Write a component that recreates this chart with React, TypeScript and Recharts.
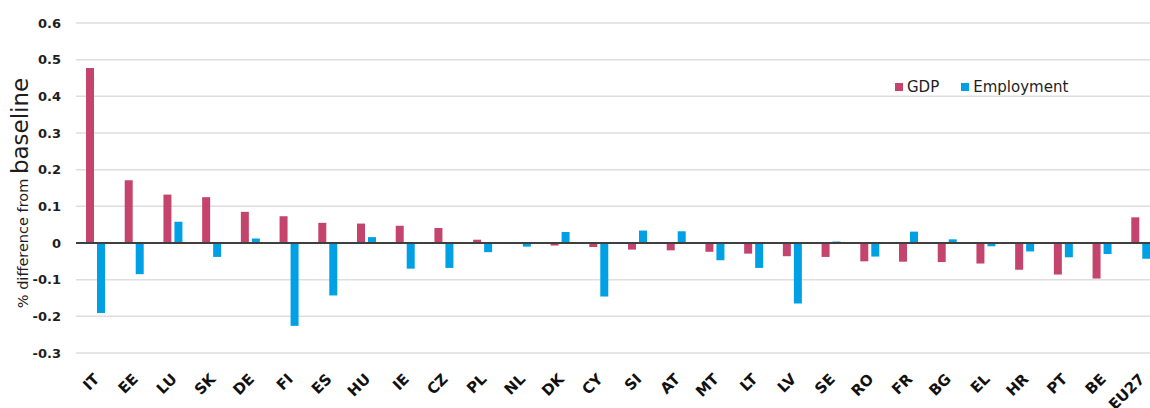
import React from 'react'
import {
  BarChart,
  Bar,
  XAxis,
  YAxis,
  CartesianGrid,
  Legend,
  ReferenceLine,
} from 'recharts'

const countries = [
  'IT', 'EE', 'LU', 'SK', 'DE', 'FI', 'ES', 'HU', 'IE', 'CZ', 'PL', 'NL', 'DK', 'CY',
  'SI', 'AT', 'MT', 'LT', 'LV', 'SE', 'RO', 'FR', 'BG', 'EL', 'HR', 'PT', 'BE', 'EU27',
]

const gdp = [
  0.477, 0.171, 0.132, 0.125, 0.085, 0.073, 0.055, 0.053, 0.047, 0.041, 0.009, -0.001, -0.007, -0.011,
  -0.018, -0.02, -0.024, -0.029, -0.036, -0.038, -0.05, -0.051, -0.052, -0.056, -0.073, -0.086, -0.097, 0.07,
]

const employment = [
  -0.191, -0.085, 0.058, -0.038, 0.012, -0.226, -0.143, 0.016, -0.07, -0.068, -0.025, -0.01, 0.03, -0.146,
  0.034, 0.032, -0.047, -0.068, -0.165, 0.004, -0.037, 0.031, 0.01, -0.009, -0.023, -0.039, -0.03, -0.043,
]

const yTicks = [-0.3, -0.2, -0.1, 0, 0.1, 0.2, 0.3, 0.4, 0.5, 0.6]

const GDP_COLOR = '#C5446E'
const EMP_COLOR = '#00A1E4'
const FONT = '"DejaVu Sans", sans-serif'

const data = countries.map((name, i) => ({
  name,
  gdp: gdp[i],
  employment: employment[i],
}))

interface TickProps {
  x: number
  y: number
  payload?: { value: string | number }
}

const YTick = ({ y, payload }: TickProps) => (
  <text
    x={61}
    y={y}
    dy={4.5}
    textAnchor="end"
    fontFamily={FONT}
    fontSize={13}
    fontWeight={600}
    fill="#1e1e1e"
  >
    {payload?.value === 0 ? '0' : String(payload?.value)}
  </text>
)

const XTick = ({ x, y, payload }: TickProps) => (
  <g transform={`translate(${x + 5},${y + 19})`}>
    <text
      x={0}
      y={0}
      textAnchor="end"
      transform="rotate(-45)"
      fontFamily={FONT}
      fontSize={15}
      fontWeight={700}
      fill="#111"
    >
      {payload?.value}
    </text>
  </g>
)

const YLabel = () => (
  <text
    x={28}
    y={193}
    transform="rotate(-90, 28, 193)"
    textAnchor="middle"
    fontFamily={FONT}
    fill="#1e1e1e"
  >
    <tspan fontSize={14.5}>% difference from </tspan>
    <tspan fontSize={23}>baseline</tspan>
  </text>
)

const LegendContent = () => (
  <div
    style={{
      display: 'flex',
      alignItems: 'center',
      fontFamily: FONT,
      fontSize: 15,
      color: '#1e1e1e',
    }}
  >
    <span style={{ width: 8, height: 8, background: GDP_COLOR, marginRight: 4 }} />
    <span style={{ marginRight: 22 }}>GDP</span>
    <span style={{ width: 8, height: 8, background: EMP_COLOR, marginRight: 4 }} />
    <span>Employment</span>
  </div>
)

export default function App() {
  return (
    <div
      style={{
        position: 'fixed',
        left: 0,
        top: 0,
        width: 1150,
        height: 408,
        overflow: 'hidden',
        background: '#fff',
      }}
    >
      <BarChart
        width={1160}
        height={408}
        data={data}
        margin={{ top: 23, right: 0, bottom: 0, left: 0 }}
        barSize={8}
        barGap={3}
      >
        <CartesianGrid vertical={false} stroke="#dedede" strokeWidth={1.5} />
        <XAxis
          dataKey="name"
          interval={0}
          height={55}
          tickLine={false}
          axisLine={false}
          tick={XTick}
        />
        <YAxis
          width={76}
          domain={[-0.3, 0.6]}
          ticks={yTicks}
          tickLine={false}
          axisLine={false}
          tick={YTick}
          label={YLabel}
        />
        <Legend
          layout="vertical"
          align="center"
          verticalAlign="middle"
          content={LegendContent}
          wrapperStyle={{ position: 'absolute', left: 895, top: 78, width: 'auto' }}
        />
        <ReferenceLine y={0} stroke="#3f3f3f" strokeWidth={2} />
        <Bar dataKey="gdp" name="GDP" fill={GDP_COLOR} isAnimationActive={false} />
        <Bar dataKey="employment" name="Employment" fill={EMP_COLOR} isAnimationActive={false} />
      </BarChart>
    </div>
  )
}
